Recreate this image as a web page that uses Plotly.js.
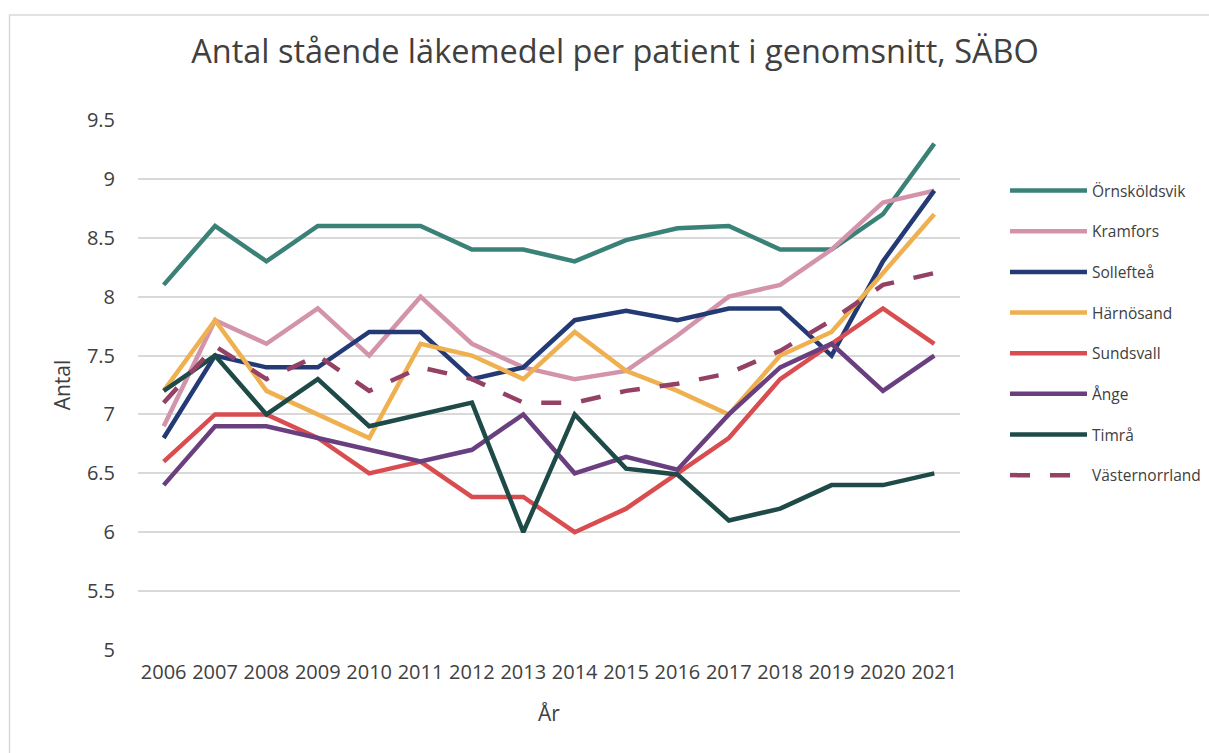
<!DOCTYPE html>
<html>
<head>
<meta charset="utf-8">
<script src="https://cdn.plot.ly/plotly-3.0.1.min.js"></script>
<style>
html,body{margin:0;padding:0;background:#fff;}
#chart{width:1209px;height:753px;}
</style>
</head>
<body>
<div id="chart"></div>
<script>
const years = ["2006","2007","2008","2009","2010","2011","2012","2013","2014","2015","2016","2017","2018","2019","2020","2021"];

const ornskoldsvik = [8.1, 8.6, 8.3, 8.6, 8.6, 8.6, 8.4, 8.4, 8.3, 8.48, 8.58, 8.6, 8.4, 8.4, 8.7, 9.3];
const kramfors     = [6.9, 7.8, 7.6, 7.9, 7.5, 8.0, 7.6, 7.4, 7.3, 7.37, 7.67, 8.0, 8.1, 8.4, 8.8, 8.9];
const solleftea    = [6.8, 7.5, 7.4, 7.4, 7.7, 7.7, 7.3, 7.4, 7.8, 7.88, 7.8, 7.9, 7.9, 7.5, 8.3, 8.9];
const harnosand    = [7.2, 7.8, 7.2, 7.0, 6.8, 7.6, 7.5, 7.3, 7.7, 7.37, 7.2, 7.0, 7.5, 7.7, 8.2, 8.7];
const sundsvall    = [6.6, 7.0, 7.0, 6.8, 6.5, 6.6, 6.3, 6.3, 6.0, 6.2, 6.5, 6.8, 7.3, 7.6, 7.9, 7.6];
const ange         = [6.4, 6.9, 6.9, 6.8, 6.7, 6.6, 6.7, 7.0, 6.5, 6.64, 6.53, 7.0, 7.4, 7.6, 7.2, 7.5];
const timra        = [7.2, 7.5, 7.0, 7.3, 6.9, 7.0, 7.1, 6.0, 7.0, 6.54, 6.49, 6.1, 6.2, 6.4, 6.4, 6.5];
const vasternorrland = [7.1, 7.58, 7.3, 7.5, 7.2, 7.4, 7.3, 7.1, 7.1, 7.2, 7.26, 7.35, 7.54, 7.8, 8.1, 8.2];

const yTicks = [5, 5.5, 6, 6.5, 7, 7.5, 8, 8.5, 9, 9.5];
const yTickLabels = ["5", "5.5", "6", "6.5", "7", "7.5", "8", "8.5", "9", "9.5"];

const seriesNames = ["Örnsköldsvik", "Kramfors", "Sollefteå", "Härnösand", "Sundsvall", "Ånge", "Timrå", "Västernorrland"];
const seriesData = [ornskoldsvik, kramfors, solleftea, harnosand, sundsvall, ange, timra, vasternorrland];
const seriesColors = ["#3a8178", "#d394ab", "#233a75", "#efb04f", "#d94c50", "#6a3f80", "#1e4a47", "#944166"];
const seriesDash = ["solid", "solid", "solid", "solid", "solid", "solid", "solid", "20px,20px"];

const xIdx = years.map((_, i) => i);

const traces = seriesNames.map((name, k) => ({
  type: "scatter",
  mode: "lines",
  name: name,
  legendgroup: "g" + k,
  x: xIdx,
  y: seriesData[k],
  line: {color: seriesColors[k], width: 4.5, dash: seriesDash[k]},
  hoverinfo: "x+y+name"
}));

const fontFam = "'Open Sans', 'Noto Sans', sans-serif";
const txt = "#404040";

const layout = {
  width: 1209,
  height: 753,
  margin: {l: 138, r: 249, t: 120, b: 103},
  paper_bgcolor: "#ffffff",
  plot_bgcolor: "#ffffff",
  font: {family: fontFam, color: txt},
  showlegend: true,
  title: {
    text: "Antal stående läkemedel per patient i genomsnitt, SÄBO",
    font: {size: 32.5, color: txt, family: fontFam},
    x: 615 / 1209, xref: "container", xanchor: "center",
    y: 0.932, yref: "container", yanchor: "middle"
  },
  xaxis: {
    range: [-0.5, 15.5],
    tickmode: "array",
    tickvals: xIdx,
    ticktext: years,
    tickfont: {size: 20, color: txt},
    showgrid: false,
    zeroline: false,
    showline: false,
    ticks: "",
    ticklabelstandoff: 8,
    title: {text: "År", font: {size: 21, color: txt}, standoff: 22},
    fixedrange: true
  },
  yaxis: {
    range: [5, 9.5],
    tickmode: "array",
    tickvals: yTicks,
    ticktext: yTickLabels,
    tickfont: {size: 20, color: txt},
    showgrid: true,
    gridcolor: "#d9d9d9",
    gridwidth: 2,
    zeroline: false,
    showline: false,
    ticks: "",
    ticklabelstandoff: 22,
    title: {text: "Antal", font: {size: 21, color: txt}, standoff: 10},
    fixedrange: true
  },
  legend: {
    xref: "container", yref: "container",
    x: 1005 / 1209, xanchor: "left",
    y: 1 - 174 / 753, yanchor: "top",
    font: {size: 15.5, color: txt},
    itemwidth: 77,
    traceorder: "grouped",
    tracegroupgap: 17.5,
    bgcolor: "rgba(0,0,0,0)"
  },
  shapes: [{
    type: "rect",
    xref: "paper", yref: "paper",
    x0: -0.1563, x1: 1.6, y0: -0.6, y1: 1.198,
    line: {color: "#d9d9d9", width: 1.5},
    fillcolor: "rgba(0,0,0,0)",
    layer: "below"
  }]
};

Plotly.newPlot("chart", traces, layout, {displayModeBar: false, staticPlot: true});
</script>
</body>
</html>
